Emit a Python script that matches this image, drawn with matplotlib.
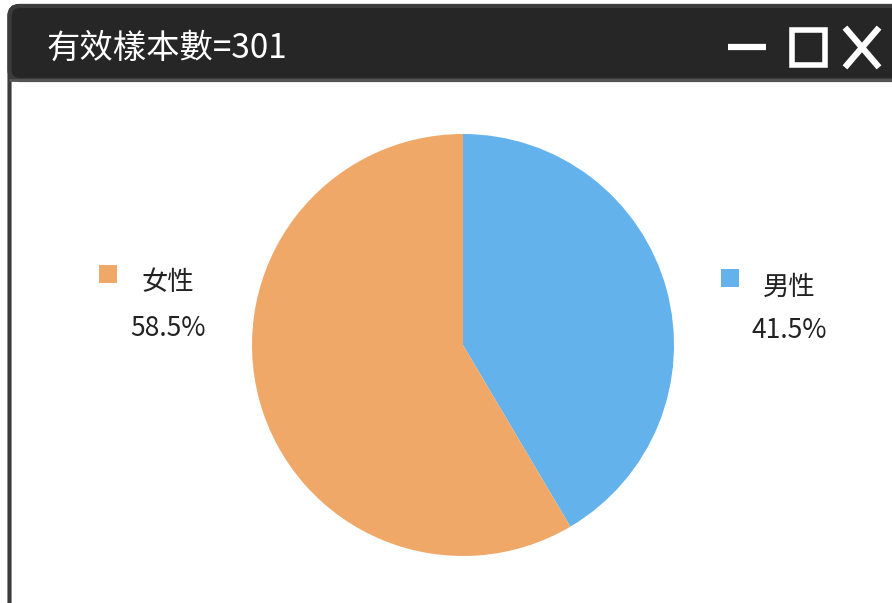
import matplotlib
matplotlib.use("Agg")
import matplotlib.pyplot as plt
from matplotlib.patches import FancyBboxPatch, Rectangle

plt.rcParams['font.family'] = ['Noto Sans CJK TC', 'DejaVu Sans']

title = '有效樣本數=301'
labels = ['男性', '女性']
values = [41.5, 58.5]
colors = ['#63B2EC', '#F0A868']

W, H = 892, 603
fig = plt.figure(figsize=(W / 100, H / 100), dpi=100)

# background axes in pixel coords (y downwards)
bg = fig.add_axes([0, 0, 1, 1])
bg.set_xlim(0, W)
bg.set_ylim(H, 0)
bg.axis('off')

# window frame
bg.add_patch(FancyBboxPatch((9.5, 6), 940, 700, boxstyle='round,pad=0,rounding_size=10',
                            facecolor='white', edgecolor='#3c3c3c', linewidth=3))
bg.add_patch(FancyBboxPatch((9.5, 6), 940, 74, boxstyle='round,pad=0,rounding_size=10',
                            facecolor='#262626', edgecolor='#3c3c3c', linewidth=3))
bg.plot([9.5, W], [80, 80], color='#555555', lw=2)
bg.text(47, 48, title, color='white', fontsize=24, va='center', ha='left')

# window buttons
bg.plot([728, 766], [47, 47], color='white', lw=4.5, solid_capstyle='butt')
bg.add_patch(Rectangle((792, 30), 33, 35, fill=False, edgecolor='white', lw=4))
bg.plot([847, 877], [30, 65], color='white', lw=4.5)
bg.plot([847, 877], [65, 30], color='white', lw=4.5)

# pie
cx, cy, r = 463, 345, 211
ax = fig.add_axes([(cx - r) / W, (H - cy - r) / H, 2 * r / W, 2 * r / H])
ax.pie(values, colors=colors, startangle=90, counterclock=False,
       wedgeprops=dict(linewidth=0))
ax.set_xlim(-1, 1)
ax.set_ylim(-1, 1)
ax.set_aspect('equal')
ax.axis('off')

# side labels
label_pos = {'男性': (730, 278, 789, 287, 330), '女性': (108, 274, 168, 283, 328)}
for lab, val, col in zip(labels, values, colors):
    sx, sy, tx, ty, py = label_pos[lab]
    bg.add_patch(Rectangle((sx - 9, sy - 9), 18, 18, facecolor=col, edgecolor='none'))
    bg.text(tx, ty, lab, fontsize=19, ha='center', va='center', color='#222222')
    bg.text(tx, py, f'{val}%', fontsize=19, ha='center', va='center', color='#222222')

fig.savefig('out.png', dpi=100)
